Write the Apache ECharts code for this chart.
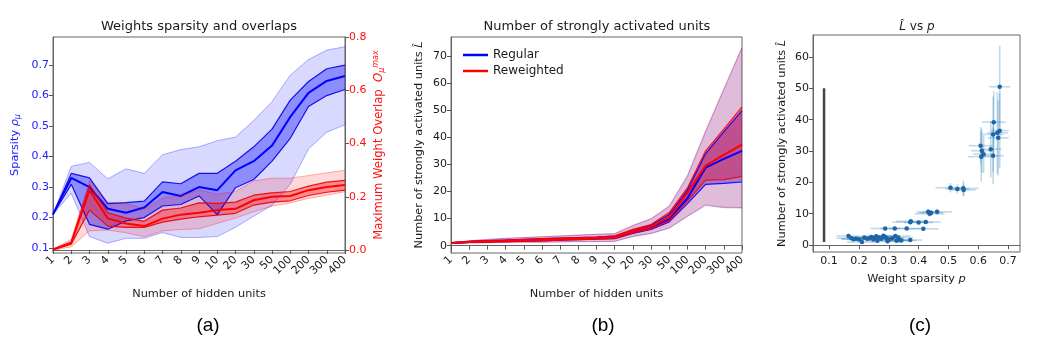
<!DOCTYPE html>
<html>
<head>
<meta charset="utf-8">
<script src="https://cdn.jsdelivr.net/npm/echarts@6.0.0/dist/echarts.min.js"></script>
<style>
  html, body { margin: 0; padding: 0; background: #fff; }
  #chart { width: 1054px; height: 356px; }
</style>
</head>
<body>
<div id="chart"></div>
<script>
// x categories shared by panels (a) and (b)
const hiddenUnits = ['1','2','3','4','5','6','7','8','9','10','20','30','50','100','200','300','400'];

// (a) weight sparsity (left axis): min / lower / median / upper / max
const spMin = [0.21,0.28,0.138,0.116,0.132,0.132,0.151,0.135,0.135,0.138,0.168,0.205,0.24,0.31,0.425,0.48,0.504];
const spLo  = [0.21,0.309,0.178,0.162,0.189,0.20,0.238,0.243,0.271,0.21,0.298,0.325,0.385,0.46,0.564,0.60,0.62];
const spMed = [0.211,0.33,0.30,0.229,0.216,0.233,0.284,0.271,0.30,0.29,0.355,0.385,0.436,0.53,0.609,0.648,0.664];
const spHi  = [0.21,0.345,0.33,0.246,0.249,0.254,0.317,0.311,0.345,0.345,0.385,0.432,0.49,0.585,0.646,0.688,0.70];
const spMax = [0.21,0.368,0.381,0.327,0.36,0.345,0.406,0.423,0.432,0.452,0.464,0.518,0.58,0.667,0.718,0.749,0.76];

// (a) max weight overlap (right axis)
const ovMin = [0.0,0.012,0.072,0.075,0.065,0.05,0.072,0.077,0.08,0.1,0.12,0.144,0.165,0.177,0.194,0.206,0.219];
const ovLo  = [0.001,0.022,0.15,0.09,0.085,0.085,0.105,0.116,0.125,0.131,0.138,0.169,0.18,0.185,0.205,0.217,0.225];
const ovMed = [0.002,0.027,0.225,0.119,0.1,0.09,0.118,0.133,0.14,0.15,0.155,0.187,0.2,0.203,0.225,0.237,0.244];
const ovHi  = [0.003,0.03,0.245,0.14,0.12,0.108,0.15,0.158,0.177,0.175,0.18,0.206,0.215,0.22,0.24,0.255,0.262];
const ovMax = [0.004,0.04,0.26,0.18,0.175,0.155,0.195,0.205,0.225,0.21,0.22,0.26,0.27,0.27,0.28,0.29,0.30];

// (b) number of strongly activated units
const regMin = [0.9,1.0,1.1,1.2,1.3,1.3,1.4,1.5,1.5,1.6,3.4,4.5,6.5,10.8,14.8,14.0,13.9];
const regLo  = [0.95,1.2,1.35,1.5,1.65,1.8,2.0,2.2,2.4,2.6,4.5,6.0,8.8,15.5,22.6,23.0,23.5];
const regMed = [1.0,1.4,1.6,1.8,2.0,2.2,2.4,2.6,2.8,3.0,5.2,6.8,9.8,17.5,28.8,32.0,35.0];
const regHi  = [1.05,1.6,1.9,2.1,2.35,2.6,2.8,3.0,3.2,3.5,5.8,7.6,11.5,20.5,34.0,42.0,49.8];
const regMax = [1.1,1.8,2.3,2.7,3.0,3.3,3.6,3.9,4.2,4.4,7.4,9.9,14.5,25.5,42.0,57.5,73.0];

const rewMin = [0.9,1.0,1.1,1.2,1.3,1.3,1.4,1.5,1.5,1.6,3.4,4.5,6.5,10.9,15.2,14.2,14.1];
const rewLo  = [0.95,1.2,1.35,1.5,1.65,1.8,2.0,2.2,2.4,2.7,4.7,6.2,9.2,16.5,24.2,24.4,25.6];
const rewMed = [1.0,1.4,1.6,1.8,2.0,2.2,2.4,2.6,2.8,3.1,5.4,7.0,10.5,19.5,29.5,33.5,37.3];
const rewHi  = [1.05,1.6,1.9,2.1,2.35,2.6,2.8,3.0,3.2,3.6,6.0,7.8,12.2,21.3,35.0,43.0,51.2];
const rewMax = [1.1,1.8,2.3,2.7,3.0,3.3,3.6,3.9,4.2,4.5,7.5,10.0,14.7,26.0,42.5,58.0,73.2];

// (c) L vs p scatter with error bars
const pVals = [0.672,0.652,0.650,0.664,0.672,0.667,0.608,0.612,0.618,0.610,0.642,0.650,
  0.507,0.530,0.550,0.551,0.432,0.437,0.442,0.462,0.372,0.374,0.400,0.424,0.288,0.320,0.360,0.416,
  0.165,0.175,0.182,0.19,0.20,0.21,0.218,0.228,0.236,0.242,0.248,0.252,0.258,0.262,0.268,0.275,
  0.282,0.288,0.292,0.296,0.302,0.312,0.322,0.326,0.332,0.336,0.342,0.372];
const lVals = [50.5,39.2,35.3,35.8,36.5,34.2,31.7,30.1,29.0,28.2,30.6,28.5,
  18.3,17.9,18.1,17.6,10.6,10.0,10.3,10.6,7.3,7.6,7.2,7.4,5.3,5.3,5.3,5.2,
  2.9,2.2,1.9,2.0,1.8,1.0,2.4,2.0,2.2,2.6,1.8,2.3,2.8,1.4,2.4,2.0,
  3.0,2.6,2.2,1.2,1.8,2.2,2.9,1.4,2.4,1.6,1.5,1.6];
const pErr = [0.035,0.04,0.035,0.035,0.03,0.035,0.04,0.035,0.035,0.045,0.035,0.035,
  0.05,0.04,0.05,0.04,0.04,0.05,0.04,0.05,0.06,0.05,0.05,0.05,0.05,0.05,0.06,0.05,
  0.04,0.05,0.04,0.05,0.04,0.05,0.05,0.04,0.05,0.06,0.04,0.05,0.05,0.04,0.05,0.04,
  0.05,0.04,0.05,0.04,0.05,0.04,0.05,0.04,0.05,0.04,0.05,0.04];
const lErr = [13,10,12,13,12,12,6,7,6,8,9,9,
  1.5,1.5,2.5,2,1,1,1,1,0.6,0.6,0.5,0.5,0.5,0.5,0.5,0.5,
  0.6,0.5,0.5,0.6,0.5,0.5,0.6,0.5,0.6,0.5,0.5,0.6,0.5,0.5,0.6,0.5,
  0.6,0.5,0.6,0.5,0.5,0.6,0.5,0.5,0.6,0.5,0.5,0.5];
const barP = [0.083, 0.083];
const barL = [1, 50];

const spTicks = [0.1,0.2,0.3,0.4,0.5,0.6,0.7];
const ovTicks = [0,0.2,0.4,0.6,0.8];
const lTicksB = [0,10,20,30,40,50,60,70];
const pTicksC = [0.1,0.2,0.3,0.4,0.5,0.6,0.7];
const lTicksC = [0,10,20,30,40,50,60];

const FONT = 'DejaVu Sans';
const BLUE = '#0000ff';
const RED = '#ff0000';
const TXT = '#1a1a1a';

// band = two stacked line series, the upper one filled down to the lower one
function band(id, xi, yi, lo, hi, fill, edge, edgeW) {
  return [
    { name: id + '-lo', type: 'line', xAxisIndex: xi, yAxisIndex: yi, data: lo, stack: id,
      symbol: 'none', silent: true, lineStyle: { color: edge, width: edgeW } },
    { name: id + '-hi', type: 'line', xAxisIndex: xi, yAxisIndex: yi,
      data: hi.map((v, i) => +(v - lo[i]).toFixed(4)), stack: id,
      symbol: 'none', silent: true, lineStyle: { color: edge, width: edgeW },
      areaStyle: { color: fill, opacity: 1 } }
  ];
}

function median(name, xi, yi, data, color) {
  return { name: name, type: 'line', xAxisIndex: xi, yAxisIndex: yi, data: data,
    symbol: 'none', silent: true, itemStyle: { color: color },
    lineStyle: { color: color, width: 2 } };
}

function catAxis(gi) {
  return {
    gridIndex: gi, type: 'category', data: hiddenUnits, boundaryGap: false,
    axisLine: { show: true, lineStyle: { color: '#666', width: 1 } },
    axisTick: { show: true, interval: 0, length: 4, lineStyle: { color: '#555' } },
    axisLabel: { interval: 0, rotate: 45, fontSize: 11, fontFamily: FONT, color: TXT, margin: 5 },
    splitLine: { show: false },
    name: 'Number of hidden units', nameLocation: 'middle', nameGap: 36,
    nameTextStyle: { fontSize: 11.3, fontFamily: FONT, color: TXT }
  };
}

function valAxis(gi, min, max, ticks, fmt, color, extra) {
  return Object.assign({
    gridIndex: gi, type: 'value', min: min, max: max,
    axisLine: { show: true, lineStyle: { color: '#666', width: 1 } },
    axisTick: { show: true, length: 4, customValues: ticks, lineStyle: { color: '#555' } },
    axisLabel: { customValues: ticks, formatter: fmt, fontSize: 11, fontFamily: FONT, color: color, margin: 4 },
    splitLine: { show: false }
  }, extra);
}

const chart = echarts.init(document.getElementById('chart'), null, { renderer: 'canvas' });

const errData = pVals.map((p, i) => [p, lVals[i], pErr[i], lErr[i]]);

chart.setOption({
  animation: false,
  backgroundColor: '#fff',
  textStyle: { fontFamily: FONT },
  grid: [
    { left: 53, top: 37, width: 292, height: 216, show: true, borderColor: '#666', borderWidth: 1 },
    { left: 451, top: 37, width: 291, height: 216, show: true, borderColor: '#666', borderWidth: 1 },
    { left: 813, top: 35, width: 207, height: 217, show: true, borderColor: '#666', borderWidth: 1 }
  ],
  legend: {
    data: ['Regular', 'Reweighted'],
    left: 458, top: 44, orient: 'vertical', icon: 'rect',
    itemWidth: 25, itemHeight: 2.5, itemGap: 4,
    textStyle: { fontSize: 12, fontFamily: FONT, color: TXT }
  },
  xAxis: [
    catAxis(0),
    catAxis(1),
    valAxis(2, 0.046, 0.74, pTicksC, v => v.toFixed(1), TXT, {
      name: 'Weight sparsity {i|p}', nameLocation: 'middle', nameGap: 22,
      nameTextStyle: { fontSize: 11.3, fontFamily: FONT, color: TXT,
        rich: { i: { fontStyle: 'italic', fontSize: 11.3, fontFamily: FONT, color: TXT } } }
    })
  ],
  yAxis: [
    valAxis(0, 0.084, 0.792, spTicks, v => v.toFixed(1), '#2020ff', {
      name: 'Sparsity {i|ρ}{s|μ}', nameLocation: 'middle', nameGap: 31, nameRotate: 90,
      nameTextStyle: { fontSize: 11.3, fontFamily: FONT, color: '#2020ff',
        rich: {
          i: { fontStyle: 'italic', fontSize: 11.3, fontFamily: FONT, color: '#2020ff' },
          s: { fontStyle: 'italic', fontSize: 8, fontFamily: FONT, color: '#2020ff', padding: [6, 0, 0, 0] }
        } }
    }),
    valAxis(0, -0.011, 0.8, ovTicks, v => v.toFixed(1), '#ff1010', {
      position: 'right',
      name: 'Maximum Weight Overlap  {i|O}{s|μ}{u|max}', nameLocation: 'middle', nameGap: 27, nameRotate: 90,
      nameTextStyle: { fontSize: 11.6, fontFamily: FONT, color: '#ff1010',
        rich: {
          i: { fontStyle: 'italic', fontSize: 11.6, fontFamily: FONT, color: '#ff1010' },
          s: { fontStyle: 'italic', fontSize: 8, fontFamily: FONT, color: '#ff1010', padding: [6, 0, 0, 0] },
          u: { fontStyle: 'italic', fontSize: 8, fontFamily: FONT, color: '#ff1010', padding: [0, 0, 6, 0] }
        } }
    }),
    valAxis(1, -2.7, 77, lTicksB, v => String(v), TXT, {
      name: 'Number of strongly activated units {i|L̂}', nameLocation: 'middle', nameGap: 26, nameRotate: 90,
      nameTextStyle: { fontSize: 11.3, fontFamily: FONT, color: TXT,
        rich: { i: { fontStyle: 'italic', fontSize: 11.3, fontFamily: FONT, color: TXT } } }
    }),
    valAxis(2, -2.2, 67, lTicksC, v => String(v), TXT, {
      name: 'Number of strongly activated units {i|L̂}', nameLocation: 'middle', nameGap: 25, nameRotate: 90,
      nameTextStyle: { fontSize: 11.3, fontFamily: FONT, color: TXT,
        rich: { i: { fontStyle: 'italic', fontSize: 11.3, fontFamily: FONT, color: TXT } } }
    })
  ],
  series: [
    // (a) sparsity
    ...band('spOuter', 0, 0, spMin, spMax, 'rgba(0,0,255,0.15)', 'rgba(0,0,255,0.3)', 1),
    ...band('spInner', 0, 0, spLo, spHi, 'rgba(0,0,255,0.35)', 'rgba(0,0,230,0.9)', 1.2),
    median('Sparsity', 0, 0, spMed, BLUE),
    // (a) overlap
    ...band('ovOuter', 0, 1, ovMin, ovMax, 'rgba(255,0,0,0.15)', 'rgba(255,0,0,0.3)', 1),
    ...band('ovInner', 0, 1, ovLo, ovHi, 'rgba(255,0,0,0.35)', 'rgba(235,0,0,0.9)', 1.2),
    median('Overlap', 0, 1, ovMed, RED),
    // (b) regular
    ...band('regOuter', 1, 2, regMin, regMax, 'rgba(0,0,255,0.14)', 'rgba(0,0,255,0.25)', 1),
    ...band('regInner', 1, 2, regLo, regHi, 'rgba(0,0,255,0.35)', 'rgba(0,0,255,0.9)', 1.2),
    median('Regular', 1, 2, regMed, BLUE),
    // (b) reweighted
    ...band('rewOuter', 1, 2, rewMin, rewMax, 'rgba(255,0,0,0.14)', 'rgba(255,0,0,0.25)', 1),
    ...band('rewInner', 1, 2, rewLo, rewHi, 'rgba(255,0,0,0.35)', 'rgba(255,0,0,0.9)', 1.2),
    median('Reweighted', 1, 2, rewMed, RED),
    // (c) reference bar
    { name: 'bar', type: 'line', xAxisIndex: 2, yAxisIndex: 3, symbol: 'none', silent: true,
      data: barP.map((p, i) => [p, barL[i]]), lineStyle: { color: '#444', width: 2.5 } },
    // (c) error bars
    { name: 'err', type: 'custom', xAxisIndex: 2, yAxisIndex: 3, silent: true, data: errData,
      encode: { x: 0, y: 1 }, clip: true,
      renderItem: function (params, api) {
        const x = api.value(0), y = api.value(1), ex = api.value(2), ey = api.value(3);
        const a = api.coord([x - ex, y]), b = api.coord([x + ex, y]);
        const c = api.coord([x, y - ey]), d = api.coord([x, y + ey]);
        const st = { stroke: 'rgba(31,119,180,0.28)', lineWidth: 1.6 };
        return { type: 'group', children: [
          { type: 'line', shape: { x1: a[0], y1: a[1], x2: b[0], y2: b[1] }, style: st },
          { type: 'line', shape: { x1: c[0], y1: c[1], x2: d[0], y2: d[1] }, style: st }
        ] };
      } },
    // (c) points
    { name: 'points', type: 'scatter', xAxisIndex: 2, yAxisIndex: 3, silent: true,
      data: pVals.map((p, i) => [p, lVals[i]]), symbolSize: 4.5,
      itemStyle: { color: '#1f64a8', opacity: 1 } }
  ],
  graphic: [
    { type: 'text', x: 199, y: 27, style: { text: 'Weights sparsity and overlaps', align: 'center', verticalAlign: 'middle', font: '13px "DejaVu Sans"', fill: TXT } },
    { type: 'text', x: 597, y: 27, style: { text: 'Number of strongly activated units', align: 'center', verticalAlign: 'middle', font: '13px "DejaVu Sans"', fill: TXT } },
    { type: 'text', x: 917, y: 27, style: { text: '{i|L̂} vs {i|p}', align: 'center', verticalAlign: 'middle', font: '12px "DejaVu Sans"', fill: TXT,
        rich: { i: { fontStyle: 'italic', fontSize: 12, fontFamily: FONT, fill: TXT } } } },
    { type: 'text', x: 208, y: 326, style: { text: '(a)', align: 'center', verticalAlign: 'middle', font: '19px "Liberation Sans"', fill: '#000' } },
    { type: 'text', x: 603, y: 326, style: { text: '(b)', align: 'center', verticalAlign: 'middle', font: '19px "Liberation Sans"', fill: '#000' } },
    { type: 'text', x: 920, y: 326, style: { text: '(c)', align: 'center', verticalAlign: 'middle', font: '19px "Liberation Sans"', fill: '#000' } }
  ]
});
</script>
</body>
</html>
